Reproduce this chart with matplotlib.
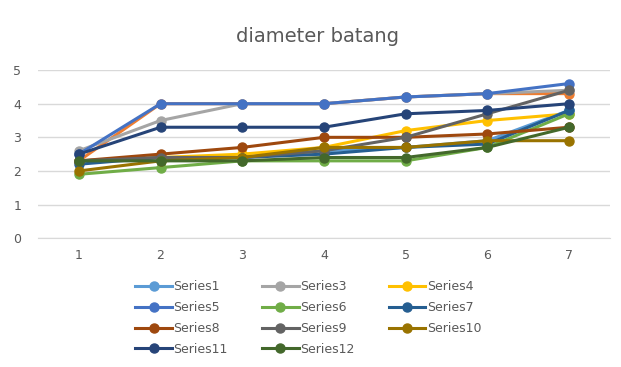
import matplotlib.pyplot as plt

x = [1, 2, 3, 4, 5, 6, 7]

s1 = [2.3, 2.4, 2.4, 2.6, 2.7, 2.9, 3.8]
s2 = [2.3, 4.0, 4.0, 4.0, 4.2, 4.3, 4.3]
s3 = [2.6, 3.5, 4.0, 4.0, 4.2, 4.3, 4.4]
s4 = [2.3, 2.4, 2.5, 2.7, 3.2, 3.5, 3.7]
s5 = [2.5, 4.0, 4.0, 4.0, 4.2, 4.3, 4.6]
s6 = [1.9, 2.1, 2.3, 2.3, 2.3, 2.7, 3.7]
s7 = [2.2, 2.4, 2.4, 2.5, 2.7, 2.8, 3.8]
s8 = [2.3, 2.5, 2.7, 3.0, 3.0, 3.1, 3.3]
s9 = [2.3, 2.4, 2.4, 2.6, 3.0, 3.7, 4.4]
s10 = [2.0, 2.3, 2.4, 2.7, 2.7, 2.9, 2.9]
s11 = [2.5, 3.3, 3.3, 3.3, 3.7, 3.8, 4.0]
s12 = [2.3, 2.3, 2.3, 2.4, 2.4, 2.7, 3.3]

series = [
    ('Series1', s1, '#5B9BD5'),
    ('Series2', s2, '#ED7D31'),
    ('Series3', s3, '#A5A5A5'),
    ('Series4', s4, '#FFC000'),
    ('Series5', s5, '#4472C4'),
    ('Series6', s6, '#70AD47'),
    ('Series7', s7, '#255E91'),
    ('Series8', s8, '#9E480E'),
    ('Series9', s9, '#636363'),
    ('Series10', s10, '#997300'),
    ('Series11', s11, '#264478'),
    ('Series12', s12, '#43682B'),
]

fig = plt.figure(figsize=(6.21, 3.67), dpi=100)
ax = fig.add_axes([0.0612, 0.351, 0.9208, 0.458])

handles = {}
for name, vals, col in series:
    h, = ax.plot(x, vals, color=col, lw=2.2, marker='o', ms=6.5, label=name)
    handles[name] = h

ax.set_xlim(0.5, 7.5)
ax.set_ylim(0, 5)
ax.set_xticks(x)
ax.set_yticks(range(0, 6))
ax.grid(axis='y', color='#D9D9D9', lw=1)
ax.set_axisbelow(True)
for sp in ['top', 'right', 'left']:
    ax.spines[sp].set_visible(False)
ax.spines['bottom'].set_color('#D9D9D9')
ax.tick_params(length=0, colors='#595959', labelsize=9)
ax.tick_params(axis='x', pad=8)
ax.tick_params(axis='y', pad=12)

fig.text(0.512, 0.9, 'diameter batang', ha='center', va='center',
         fontsize=14, color='#595959')

# row-major look from column-major filling (Series2 not in legend)
order = ['Series1', 'Series5', 'Series8', 'Series11',
         'Series3', 'Series6', 'Series9', 'Series12',
         'Series4', 'Series7', 'Series10']
fig.legend([handles[n] for n in order], order, ncol=3,
           loc='upper left', bbox_to_anchor=(0.218, 0.236), frameon=False,
           fontsize=9, labelcolor='#595959', handlelength=2.9,
           handletextpad=0.1, columnspacing=2.8, labelspacing=0.62,
           borderpad=0, borderaxespad=0)

fig.savefig('out.png', dpi=100)
